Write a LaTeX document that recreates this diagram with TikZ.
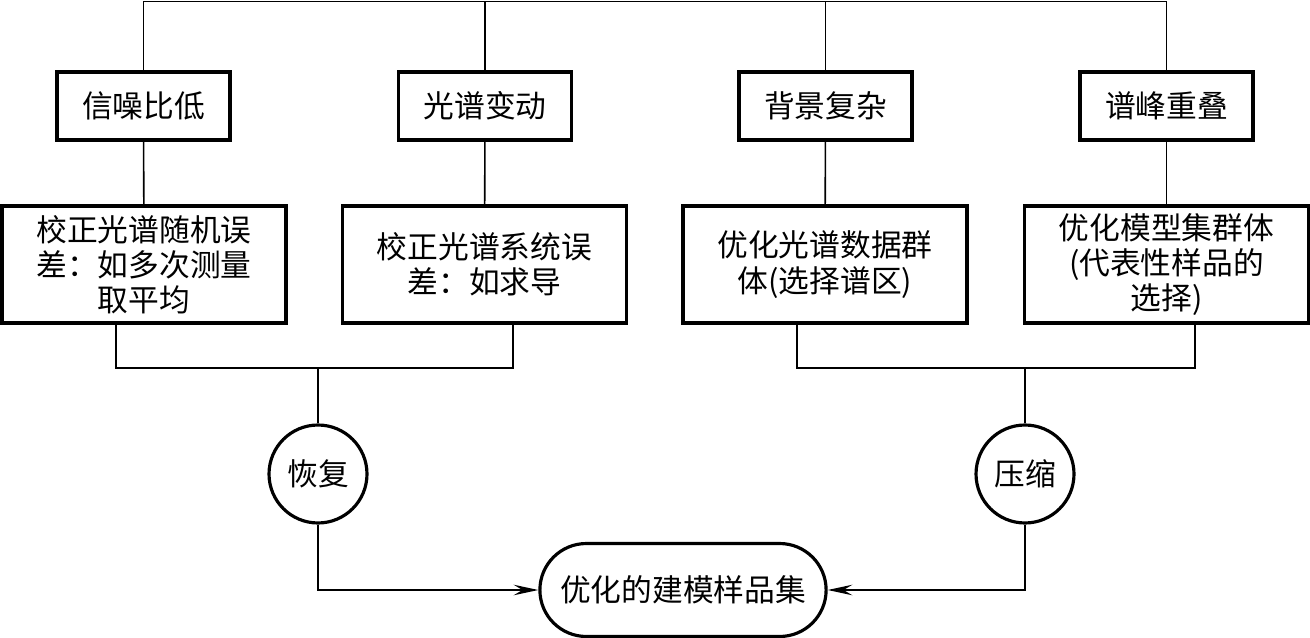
\documentclass[tikz,border=0pt]{standalone}
\usepackage{fontspec}
\newfontfamily\cjk{Noto Sans CJK SC}
\usepackage{tikz}
\usetikzlibrary{arrows.meta, positioning, shapes.misc}

\begin{document}
\begin{tikzpicture}[
  x=0.02cm, y=-0.02cm,
  txt/.style={font=\cjk\fontsize{17.5}{20}\selectfont},
  hdr/.style={txt, draw, line width=1.8pt, minimum width=3.46cm,
              minimum height=1.36cm, inner sep=0pt},
  box/.style={txt, draw, line width=1.8pt, minimum width=5.68cm,
              minimum height=2.34cm, align=center, inner sep=0pt},
  circ/.style={txt, draw, circle, line width=1.8pt, minimum size=1.96cm,
               inner sep=0pt},
  res/.style={txt, draw, rounded rectangle, line width=1.8pt,
              minimum width=5.96cm, minimum height=1.86cm},
  link/.style={line width=0.9pt},
  arr/.style={link, -{Stealth[length=14pt, width=6pt, inset=5pt]}},
]
  \useasboundingbox (0,0) rectangle (1310,638);

  % Problems
  \node[hdr] (noise)   at (143.5,106)  {信噪比低};
  \node[hdr] (shift)   at (485,106)    {光谱变动};
  \node[hdr] (backgr)  at (825.5,106)  {背景复杂};
  \node[hdr] (overlap) at (1166.5,106) {谱峰重叠};

  \coordinate (top) at (0,1.5);
  \draw[link] (noise.north) -- (noise.north |- top)
              -- (overlap.north |- top) -- (overlap.north);
  \draw[link] (shift.north)  -- (shift.north |- top);
  \draw[link] (backgr.north) -- (backgr.north |- top);

  % Remedies
  \node[box] (randerr) at (144,264.5)    {校正光谱随机误\\差：如多次测量\\取平均};
  \node[box] (syserr)  at (484.5,264.5)  {校正光谱系统误\\差：如求导};
  \node[box] (region)  at (825,264.5)    {优化光谱数据群\\体(选择谱区)};
  \node[box] (select)  at (1166.5,264.5) {优化模型集群体\\(代表性样品的\\选择)};

  \draw[link] (noise)   -- (randerr);
  \draw[link] (shift)   -- (syserr);
  \draw[link] (backgr)  -- (region);
  \draw[link] (overlap) -- (select);

  % Recover / compress
  \node[circ] (recover)  at (318,474)  {恢复};
  \node[circ] (compress) at (1025,474) {压缩};

  \coordinate (jl) at (318,368);
  \coordinate (jr) at (1025,368);
  \draw[link] ([xshift=-0.56cm]randerr.south) |- (jl)
              -| ([xshift=0.57cm]syserr.south);
  \draw[link] (jl) -- (recover);
  \draw[link] ([xshift=-0.56cm]region.south) |- (jr)
              -| ([xshift=0.57cm]select.south);
  \draw[link] (jr) -- (compress);

  % Result
  \node[res] (result) at (683,590) {优化的建模样品集};

  \draw[arr] (recover.south)  |- (result.west);
  \draw[arr] (compress.south) |- (result.east);
\end{tikzpicture}
\end{document}
